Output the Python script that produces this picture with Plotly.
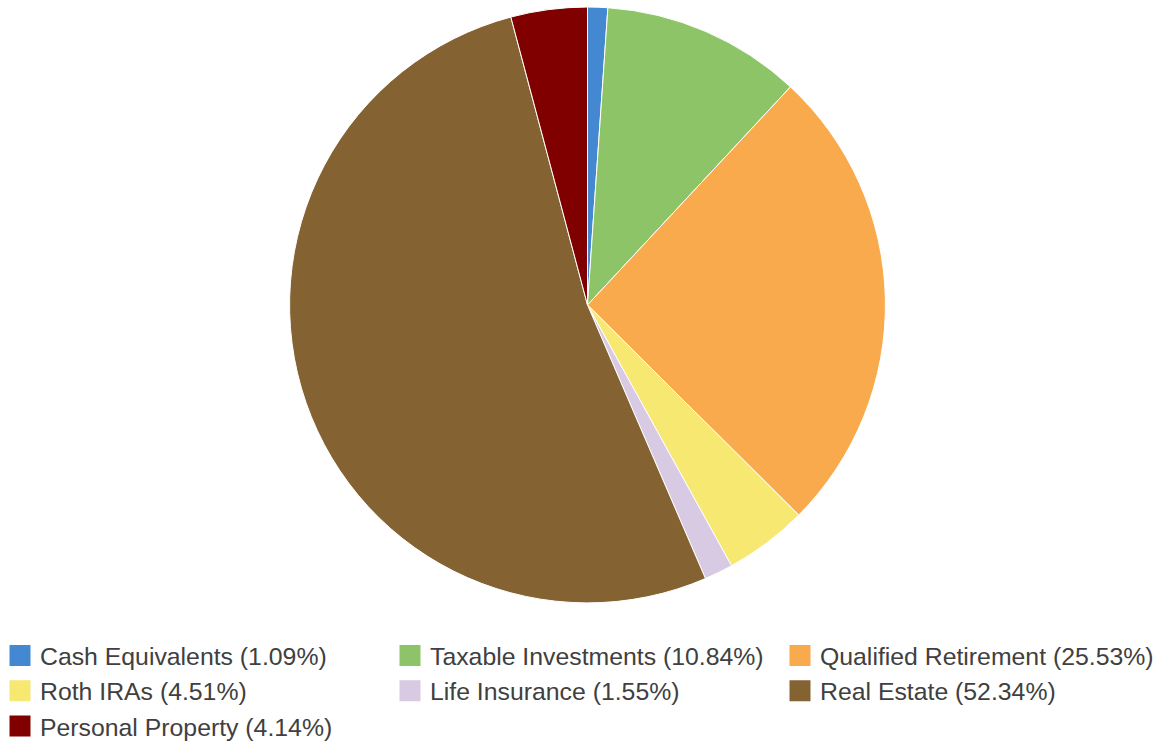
import plotly.graph_objects as go

labels = ["Cash Equivalents", "Taxable Investments", "Qualified Retirement",
          "Roth IRAs", "Life Insurance", "Real Estate", "Personal Property"]
values = [1.09, 10.84, 25.53, 4.51, 1.55, 52.34, 4.14]
colors = ["#4388d0", "#8dc468", "#f9aa4c", "#f7e872", "#d8cae3", "#856232", "#800000"]

fig = go.Figure()
fig.add_trace(go.Pie(
    labels=labels, values=values, sort=False, direction="clockwise", rotation=0,
    marker=dict(colors=colors, line=dict(color="white", width=1)),
    textinfo="none", hoverinfo="label+percent", showlegend=False,
    domain=dict(x=[0, 1], y=[0.194, 0.9906]),
))
for lab, val, col in zip(labels, values, colors):
    fig.add_trace(go.Scatter(
        x=[None], y=[None], mode="markers",
        marker=dict(symbol="square", size=16, color=col, line=dict(color=col, width=5)),
        name=f"{lab} ({val:.2f}%)", showlegend=True, hoverinfo="skip",
    ))

fig.update_layout(
    width=1175, height=748,
    margin=dict(l=0, r=0, t=0, b=0, autoexpand=False),
    paper_bgcolor="white", plot_bgcolor="white",
    xaxis=dict(visible=False), yaxis=dict(visible=False),
    legend=dict(
        orientation="h", x=0.0, xanchor="left", y=0.154, yanchor="top",
        entrywidth=345, entrywidthmode="pixels", itemsizing="trace",
        font=dict(family="Liberation Sans, Arial, sans-serif", size=24.8, color="#404040"),
        traceorder="normal", bgcolor="rgba(0,0,0,0)",
    ),
)
fig.write_html("out.html")
